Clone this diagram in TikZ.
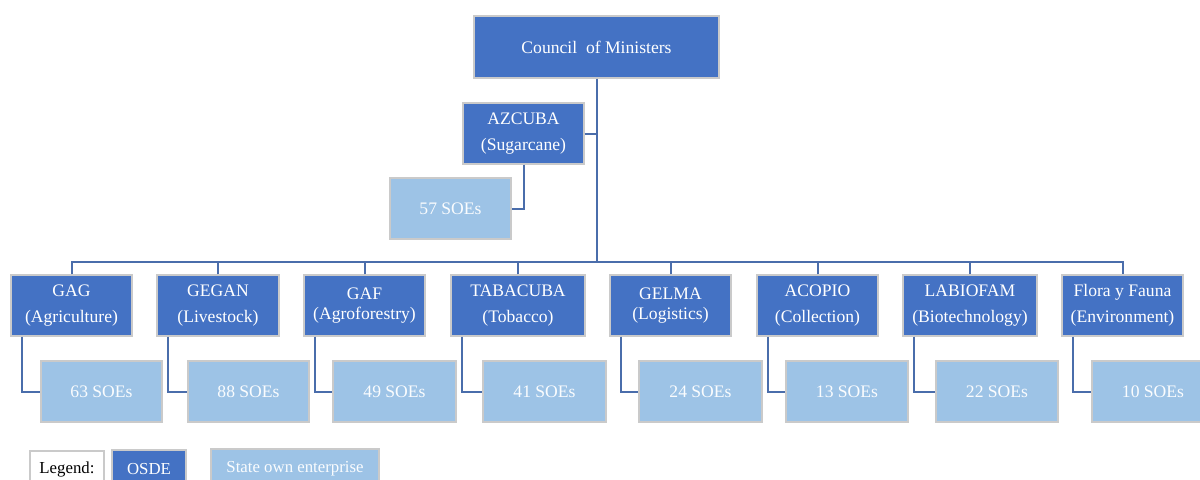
\documentclass[tikz,border=0pt]{standalone}
\usepackage{fontspec}
\setmainfont{Liberation Serif}
\usetikzlibrary{calc}
\definecolor{osdeblue}{HTML}{4472C4}
\definecolor{soeblue}{HTML}{9DC3E6}
\definecolor{edgegray}{HTML}{CACACA}
\definecolor{linkblue}{HTML}{4A6DAB}
\tikzset{
  base/.style={draw=edgegray, line width=0.9pt, inner sep=0pt, align=center,
    font=\fontsize{13.2}{19.5}\selectfont, text=white},
  osde/.style={base, fill=osdeblue},
  soe/.style={base, fill=soeblue, text=white!95!soeblue},
  legendbox/.style={base, fill=white, text=black, font=\fontsize{12.6}{15}\selectfont},
  sz/.style 2 args={minimum width=#1*0.75pt, minimum height=#2*0.75pt},
  link/.style={draw=linkblue, line width=1.5pt},
  tight/.style={font=\fontsize{13.2}{15}\selectfont}
}
\begin{document}
\begin{tikzpicture}[x=0.75pt, y=-0.75pt]
\useasboundingbox (0,0) rectangle (1200,479);
\clip (0,0) rectangle (1200,479);

% top of the hierarchy
\node[osde, sz={245}{62}] (council) at (596.5,47) {Council\ \ of Ministers};
\node[osde, sz={121}{61}] (azcuba) at (523.5,133.5) {AZCUBA\\(Sugarcane)};
\node[soe, sz={121}{61}] (s57) at (450.5,208.5) {57 SOEs};

% OSDE row
\node[osde, sz={121}{61}] (gag) at (71.5,305.5) {GAG\\(Agriculture)};
\node[osde, sz={122}{61}] (gegan) at (218,305.5) {GEGAN\\(Livestock)};
\node[osde, sz={121}{61}, tight] (gaf) at (364.5,305.5) {GAF\\(Agroforestry)};
\node[osde, sz={134}{61}] (tab) at (518,305.5) {TABACUBA\\(Tobacco)};
\node[osde, sz={121}{61}, tight] (gelma) at (670.5,305.5) {GELMA\\(Logistics)};
\node[osde, sz={121}{61}] (acopio) at (817.5,305.5) {ACOPIO\\(Collection)};
\node[osde, sz={134}{61}] (labio) at (970,305.5) {LABIOFAM\\(Biotechnology)};
\node[osde, sz={121}{61}] (flora) at (1122.5,305.5) {Flora y Fauna\\(Environment)};

% enterprise row
\node[soe, sz={121}{61}] (s63) at (101.5,391.5) {63 SOEs};
\node[soe, sz={121}{61}] (s88) at (248.5,391.5) {88 SOEs};
\node[soe, sz={123}{61}] (s49) at (394.5,391.5) {49 SOEs};
\node[soe, sz={123}{61}] (s41) at (544.5,391.5) {41 SOEs};
\node[soe, sz={123}{61}] (s24) at (700.5,391.5) {24 SOEs};
\node[soe, sz={122}{61}] (s13) at (847,391.5) {13 SOEs};
\node[soe, sz={122}{61}] (s22) at (997,391.5) {22 SOEs};
\node[soe, sz={122}{61}] (s10) at (1153,391.5) {10 SOEs};

% legend
\node[legendbox, sz={74}{36}] (leg) at (67,469) {Legend:};
\node[base, fill=osdeblue, sz={74}{38}, font=\fontsize{12.6}{15}\selectfont] (legosde) at (149,469) {OSDE};
\node[base, fill=soeblue, text=white!95!soeblue, sz={168}{40}, font=\fontsize{12.6}{15}\selectfont] (legsoe) at (295,469) {State own enterprise};

% connectors
\coordinate (bus) at (0,262);
\draw[link] (council.south) -- (council.south |- bus);
\draw[link] (azcuba.east) -- (azcuba.east -| council.south);
\draw[link] (azcuba.south) |- (s57.east);
\draw[link] (gag.north) |- (flora.north |- bus) -- (flora.north);
\foreach \n in {gegan, gaf, tab, gelma, acopio, labio}
  \draw[link] (\n.north) -- (\n.north |- bus);
\foreach \p/\c in {gag/s63, gegan/s88, gaf/s49, tab/s41, gelma/s24, acopio/s13, labio/s22, flora/s10}
  \draw[link] ($(\p.south west)+(12,0)$) |- (\c.west);
\end{tikzpicture}
\end{document}
